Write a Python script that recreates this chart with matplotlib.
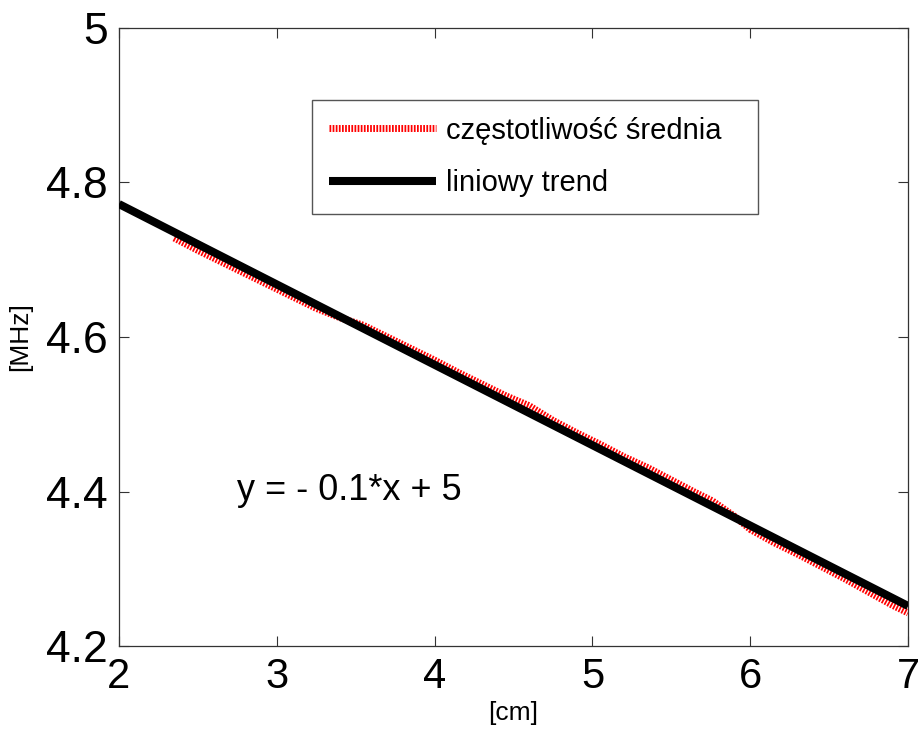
import matplotlib
matplotlib.use("Agg")
import matplotlib.pyplot as plt

# measured mean frequency along the sample [cm] -> [MHz]
pos_cm = [2.35, 2.5, 2.65, 2.8, 2.95, 3.1, 3.25, 3.4, 3.55, 3.7, 3.85,
          4.0, 4.15, 4.3, 4.45, 4.6, 4.75, 4.9, 5.05, 5.2, 5.35, 5.5,
          5.65, 5.76, 5.9, 6.0, 6.15, 6.3, 6.45, 6.6, 6.75, 6.9, 7.0]
freq_mhz = [4.728, 4.712, 4.697, 4.682, 4.667, 4.652, 4.637, 4.625, 4.615,
            4.600, 4.585, 4.570, 4.554, 4.539, 4.524, 4.511, 4.492, 4.476,
            4.461, 4.445, 4.431, 4.415, 4.399, 4.388, 4.368, 4.351, 4.334,
            4.319, 4.303, 4.287, 4.270, 4.253, 4.243]

# linear fit coefficients
trend_slope = -0.104
trend_intercept = 4.98
trend_x = [2, 7]

x_ticks = [2, 3, 4, 5, 6, 7]
y_ticks = [4.2, 4.4, 4.6, 4.8, 5.0]

plt.rcParams["font.family"] = ["Liberation Sans", "DejaVu Sans"]

fig = plt.figure(figsize=(9.22, 7.31), dpi=100)
ax = fig.add_axes([0.129, 0.116, 0.856, 0.846])

trend_y = [trend_slope * x + trend_intercept for x in trend_x]
ax.plot(pos_cm, freq_mhz, color="red", lw=5.0, linestyle=(0, (0.25, 0.2)),
        label="częstotliwość średnia", zorder=2)
ax.plot(trend_x, trend_y, color="black", lw=5.8, solid_capstyle="butt",
        label="liniowy trend", zorder=3)

ax.text(2.75, 4.402,
        f"y = - {abs(trend_slope):.1f}*x + {trend_intercept:.0f}",
        fontsize=26, va="center", ha="left")

ax.set_xlim(2, 7)
ax.set_ylim(4.2, 5)
ax.set_xticks(x_ticks)
ax.set_yticks(y_ticks)
ax.set_xticklabels([f"{v:g}" for v in x_ticks], fontsize=30)
ax.set_yticklabels([f"{v:g}" for v in y_ticks], fontsize=32)
ax.tick_params(direction="in", length=7, width=0.8, top=True, right=True,
               color="#333333")
ax.tick_params(axis="x", pad=8)
ax.tick_params(axis="y", pad=8)
for sp in ax.spines.values():
    sp.set_color("#333333")
    sp.set_linewidth(0.9)

ax.set_xlabel("[cm]", fontsize=19, labelpad=3)
ax.set_ylabel("[MHz]", fontsize=19, labelpad=10)

leg = ax.legend(loc="upper left", bbox_to_anchor=(0.2446, 0.8835, 0.5654, 0.0),
                mode="expand", fontsize=21, handlelength=3.66, handletextpad=0.35,
                borderpad=0.575, labelspacing=0.84, fancybox=False,
                framealpha=1, edgecolor="#555555", borderaxespad=0)
leg.get_frame().set_linewidth(1.0)

fig.savefig("out.png", dpi=100)
